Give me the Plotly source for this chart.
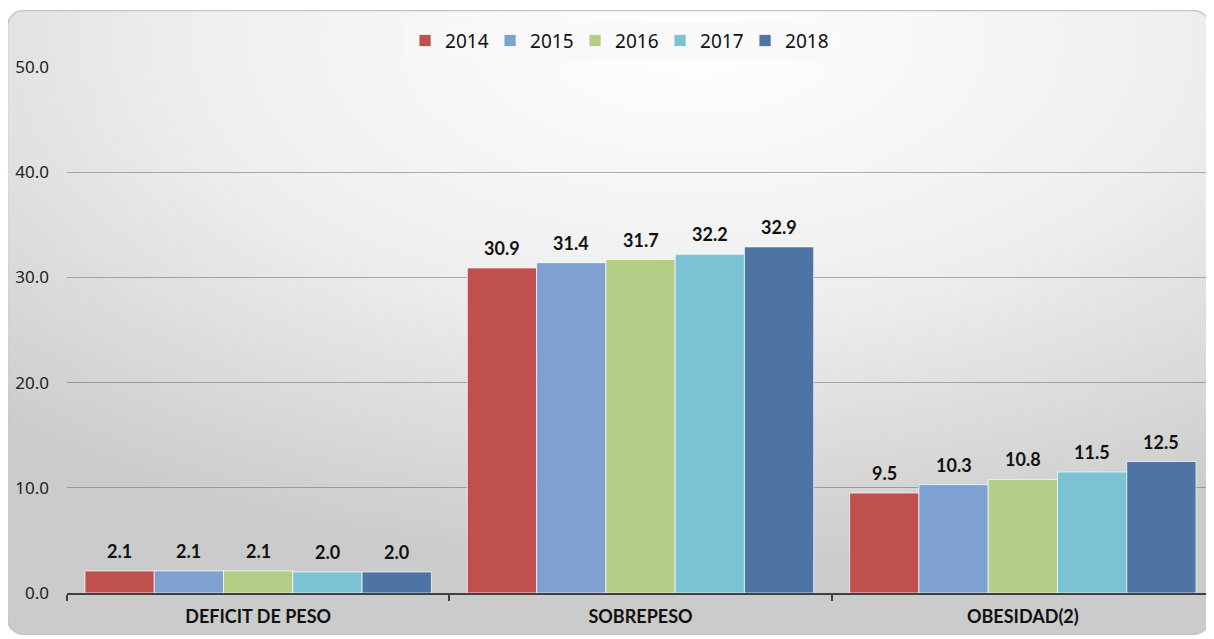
"""Estado nutricional: barras agrupadas por año (2014-2018)."""
import base64

import plotly.graph_objects as go

CATEGORIAS = ["DEFICIT DE PESO", "SOBREPESO", "OBESIDAD(2)"]
ANIOS = ["2014", "2015", "2016", "2017", "2018"]
VALORES = {
    "2014": [2.1, 30.9, 9.5],
    "2015": [2.1, 31.4, 10.3],
    "2016": [2.1, 31.7, 10.8],
    "2017": [2.0, 32.2, 11.5],
    "2018": [2.0, 32.9, 12.5],
}
Y_TICKS = [0, 10, 20, 30, 40, 50]

COLORES = {
    "2014": "#C0504D",
    "2015": "#7FA1CF",
    "2016": "#B5CE87",
    "2017": "#7BC2D5",
    "2018": "#4E73A5",
}

# la página añade 8 px de margen al body: la figura se reduce para no desbordar
PAD = 8
W, H = 1214 - PAD, 639 - PAD
M_L, M_R, M_T, M_B = 67 - PAD, 0, 67 - PAD, 46
BARGAP = 0.094

# Fondo degradado con esquinas redondeadas (como el gráfico de Excel)
svg = """<svg xmlns='http://www.w3.org/2000/svg' width='1203' height='625'>
<defs><radialGradient id='g' cx='0.57' cy='0.05' r='0.85'>
<stop offset='0' stop-color='#ffffff'/><stop offset='0.5' stop-color='#eeeeee'/>
<stop offset='1' stop-color='#cbcbcb'/></radialGradient></defs>
<rect x='0.5' y='0.5' width='1202' height='624' rx='16' ry='16' fill='url(#g)'
 stroke='#c4c4c4' stroke-width='1.5'/></svg>"""
bg_src = "data:image/svg+xml;base64," + base64.b64encode(svg.encode()).decode()

pw, ph = W - M_L - M_R, H - M_T - M_B
bx0, by0, bx1, by1 = 7 - PAD, 10 - PAD, 1210 - PAD, 635 - PAD

fig = go.Figure()
for anio in ANIOS:
    fig.add_trace(go.Bar(
        x=CATEGORIAS, y=VALORES[anio], name=anio,
        marker=dict(color=COLORES[anio],
                    line=dict(color="rgba(255,255,255,0.7)", width=1)),
        hovertemplate="%{x}<br>" + anio + ": %{y:.1f}<extra></extra>",
    ))

# Etiquetas de valor sobre cada barra
ancho = (1 - BARGAP) / len(ANIOS)
anotaciones = []
for i, anio in enumerate(ANIOS):
    off = -(1 - BARGAP) / 2 + ancho * (i + 0.5)
    for j, v in enumerate(VALORES[anio]):
        anotaciones.append(dict(
            x=j + off, y=v, xref="x", yref="y", text=f"<b>{v:.1f}</b>",
            showarrow=False, yanchor="middle", yshift=20,
            font=dict(family="Lato, Open Sans, sans-serif", size=18, color="#111"),
        ))

fig.update_layout(
    width=W, height=H,
    margin=dict(l=M_L, r=M_R, t=M_T, b=M_B),
    barmode="group", bargap=BARGAP, bargroupgap=0,
    paper_bgcolor="white", plot_bgcolor="rgba(0,0,0,0)",
    font=dict(family="Noto Sans, Open Sans, sans-serif", color="#222"),
    images=[dict(
        source=bg_src, xref="paper", yref="paper",
        x=(bx0 - M_L) / pw, y=(M_T + ph - by0) / ph,
        sizex=(bx1 - bx0) / pw, sizey=(by1 - by0) / ph,
        xanchor="left", yanchor="top", sizing="stretch", layer="below",
    )],
    legend=dict(
        orientation="h", x=0.48, xanchor="center", y=1.05, yanchor="middle",
        bgcolor="rgba(248,248,248,0.7)", font=dict(size=19, color="#111"),
        itemwidth=30, traceorder="normal", entrywidth=40,
    ),
    xaxis=dict(
        showline=True, linecolor="#404040", linewidth=2,
        ticks="outside", tickson="boundaries", ticklen=6, tickwidth=2,
        tickcolor="#404040", showgrid=False,
        tickfont=dict(family="Lato, Open Sans, sans-serif", size=18, color="#111"),
        ticklabelstandoff=6,
    ),
    yaxis=dict(
        range=[0, 50], tickvals=Y_TICKS, tickformat=".1f",
        showgrid=True, gridcolor="rgba(100,100,100,0.5)", gridwidth=1,
        zeroline=False, showline=False,
        tickfont=dict(size=17, color="#222"), ticklabelstandoff=17,
    ),
    annotations=anotaciones,
)
fig.update_xaxes(tickfont_weight="bold")

fig.write_html("out.html")
